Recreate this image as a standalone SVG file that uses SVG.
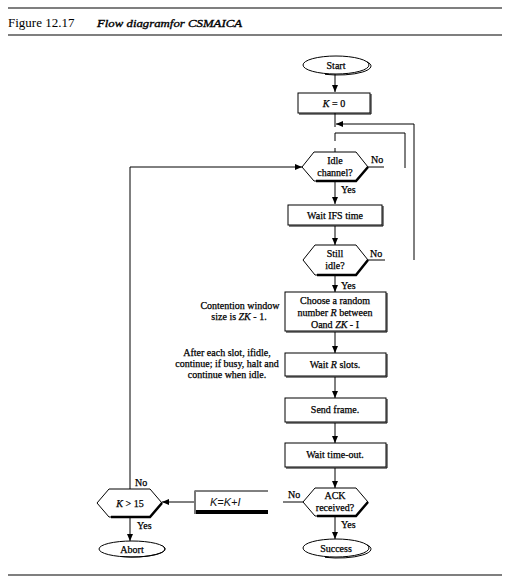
<svg xmlns="http://www.w3.org/2000/svg" width="512" height="581" viewBox="0 0 512 581">
<style>
.ln{stroke:#000;stroke-width:1;fill:none}
.sh{stroke:#000;stroke-width:2.5;fill:none}
.bx{fill:#fff;stroke:#000;stroke-width:1}
.t{font-family:"Liberation Serif",serif;font-size:10px;text-anchor:middle;fill:#000;stroke:#000;stroke-width:0.25}
.l{font-family:"Liberation Serif",serif;font-size:10px;fill:#000;stroke:#000;stroke-width:0.25}
.i{font-style:italic}
</style>
<defs>
<marker id="ah" markerWidth="7" markerHeight="6" refX="7" refY="3" orient="auto" markerUnits="userSpaceOnUse">
<path d="M0,0 L7,3 L0,6 z" fill="#000"/>
</marker>
</defs>
<rect width="512" height="581" fill="#fff"/>
<g id="header">
<line x1="8" y1="8" x2="502" y2="8" stroke="#000" stroke-width="1.2"/>
<text x="8" y="27" font-family="Liberation Serif,serif" font-size="13" fill="#000">Figure 12.17</text>
<text x="97" y="27" font-family="Liberation Serif,serif" font-size="11" font-style="italic" fill="#000" stroke="#000" stroke-width="0.35" textLength="145" lengthAdjust="spacingAndGlyphs">Flow diagramfor CSMAICA</text>
<line x1="8" y1="35" x2="502" y2="35" stroke="#000" stroke-width="1.2"/>
<line x1="8" y1="575" x2="502" y2="575" stroke="#000" stroke-width="1.2"/>
</g>
<g id="connectors">
<line class="ln" x1="335" y1="74" x2="335" y2="92" marker-end="url(#ah)"/>
<line class="ln" x1="335" y1="113" x2="335" y2="127"/>
<polyline class="ln" points="414,260 414,124 336,124" marker-end="url(#ah)"/>
<polyline class="ln" points="405,168 405,133 335,133"/>
<line class="ln" x1="335" y1="133" x2="335" y2="141"/>
<line class="ln" x1="335" y1="148" x2="335" y2="152"/>
<line class="ln" x1="368" y1="167" x2="384" y2="167"/>
<line class="ln" x1="335" y1="181" x2="335" y2="204" marker-end="url(#ah)"/>
<line class="ln" x1="335" y1="226" x2="335" y2="245" marker-end="url(#ah)"/>
<line class="ln" x1="368" y1="260" x2="385" y2="260"/>
<line class="ln" x1="335" y1="275" x2="335" y2="292" marker-end="url(#ah)"/>
<line class="ln" x1="335" y1="332" x2="335" y2="353" marker-end="url(#ah)"/>
<line class="ln" x1="335" y1="377" x2="335" y2="398" marker-end="url(#ah)"/>
<line class="ln" x1="335" y1="423" x2="335" y2="443" marker-end="url(#ah)"/>
<line class="ln" x1="335" y1="468" x2="335" y2="488" marker-end="url(#ah)"/>
<line class="ln" x1="335" y1="517" x2="335" y2="539" marker-end="url(#ah)"/>
<line class="ln" x1="303" y1="502" x2="283" y2="502"/>
<line class="ln" x1="195" y1="502" x2="162" y2="502" marker-end="url(#ah)"/>
<polyline class="ln" points="130,489 130,167 302,167" marker-end="url(#ah)"/>
<line class="ln" x1="130" y1="518" x2="130" y2="541" marker-end="url(#ah)"/>
<text class="l" x="371" y="163">No</text>
<text class="l" x="341" y="193">Yes</text>
<text class="l" x="370" y="257">No</text>
<text class="l" x="341" y="289">Yes</text>
<text class="l" x="341" y="528">Yes</text>
<text class="l" x="288" y="498">No</text>
<text class="l" x="135" y="486">No</text>
<text class="l" x="137" y="529">Yes</text>
</g>
<g id="start">
<ellipse class="bx" cx="336" cy="65" rx="33" ry="9"/>
<path class="ln" stroke-width="2" d="M366.5,61.5 A33,9 0 0 1 325,74.3"/>
<text class="t" x="336" y="68.5" font-size="9">Start</text>
</g>
<g id="k0">
<rect class="bx" x="298" y="93" width="72" height="20"/>
<polyline class="ln" stroke-width="2" points="371,94 371,114 299,114"/>
<text class="t" x="334" y="107"><tspan class="i">K</tspan> = 0</text>
</g>
<g id="idle">
<polygon class="bx" points="302,167 314,152 356,152 368,167 356,181 314,181"/>
<polyline class="sh" points="368,167 356,181 316,181"/>
<text class="t" x="335" y="164">Idle</text>
<text class="t" x="335" y="176">channel?</text>
</g>
<g id="waitifs">
<rect class="bx" x="288" y="205" width="94" height="20"/>
<polyline class="ln" stroke-width="2" points="383,206 383,226 289,226"/>
<text class="t" x="335" y="219">Wait IFS time</text>
</g>
<g id="stillidle">
<polygon class="bx" points="303,260 315,245 356,245 368,260 356,275 315,275"/>
<polyline class="sh" points="368,260 356,275 317,275"/>
<text class="t" x="335" y="257">Still</text>
<text class="t" x="335" y="269">idle?</text>
</g>
<g id="choose">
<rect class="bx" x="285" y="292" width="101" height="39"/>
<polyline class="ln" stroke-width="2" points="387,293 387,332 286,332"/>
<text class="t" x="335" y="304">Choose a random</text>
<text class="t" x="335" y="316">number <tspan class="i">R</tspan> between</text>
<text class="t" x="335" y="328">Oand <tspan class="i">ZK</tspan> - I</text>
</g>
<g id="waitr">
<rect class="bx" x="285" y="353" width="101" height="23"/>
<polyline class="ln" stroke-width="2" points="387,354 387,377 286,377"/>
<text class="t" x="335" y="368">Wait <tspan class="i">R</tspan> slots.</text>
</g>
<g id="send">
<rect class="bx" x="285" y="398" width="101" height="24"/>
<polyline class="ln" stroke-width="2" points="387,399 387,423 286,423"/>
<text class="t" x="335" y="413">Send frame.</text>
</g>
<g id="waitto">
<rect class="bx" x="285" y="443" width="101" height="24"/>
<polyline class="ln" stroke-width="2" points="387,444 387,468 286,468"/>
<text class="t" x="335" y="458">Wait time-out.</text>
</g>
<g id="ack">
<polygon class="bx" points="303,502 315,488 356,488 368,502 356,516 315,516"/>
<polyline class="sh" points="368,502 356,516 317,516"/>
<text class="t" x="335" y="499">ACK</text>
<text class="t" x="335" y="511">received?</text>
</g>
<g id="success">
<ellipse class="bx" cx="336" cy="548" rx="33" ry="9"/>
<path class="ln" stroke-width="2" d="M366.5,544.5 A33,9 0 0 1 325,557.3"/>
<text class="t" x="336" y="551.5" font-size="9">Success</text>
</g>
<g id="kinc">
<line x1="195" y1="491" x2="268" y2="491" stroke="#000" stroke-width="1"/>
<line x1="195" y1="512" x2="268" y2="512" stroke="#000" stroke-width="4"/>
<line x1="195" y1="490.5" x2="195" y2="514" stroke="#777" stroke-width="2"/>
<text x="210" y="506" font-family="Liberation Sans,sans-serif" font-size="11" font-style="italic" fill="#111">K=K+I</text>
</g>
<g id="k15">
<polygon class="bx" points="97,503 109,489 150,489 162,503 150,517 109,517"/>
<polyline class="sh" points="162,503 150,517 111,517"/>
<text class="t" x="130" y="506.5"><tspan class="i">K</tspan> &gt; 15</text>
</g>
<g id="abort">
<ellipse class="bx" cx="132" cy="549" rx="33" ry="8"/>
<path class="ln" stroke-width="2" d="M162.5,545.8 A33,8 0 0 1 121,556.5"/>
<text class="t" x="132" y="552.5" font-size="9">Abort</text>
</g>
<g id="notes">
<text class="t" x="240" y="309">Contention window</text>
<text class="t" x="239" y="320">size is <tspan class="i">ZK</tspan> -  1.</text>
<text class="t" x="227" y="356">After each slot, ifidle,</text>
<text class="t" x="227" y="367">continue; if busy, halt and</text>
<text class="t" x="227" y="378">continue when idle.</text>
</g>
</svg>
